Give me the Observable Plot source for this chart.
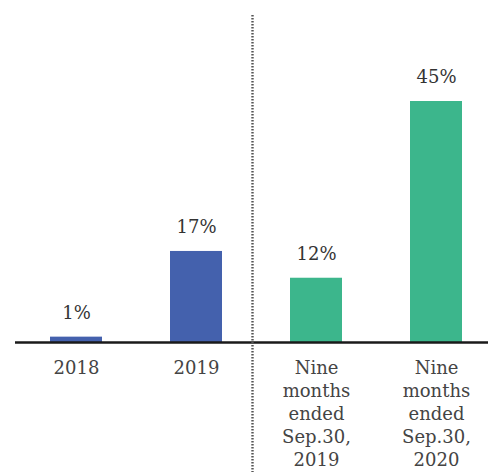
<!DOCTYPE html>
<html>
<head>
<meta charset="utf-8">
<script src="https://cdn.jsdelivr.net/npm/d3@7"></script>
<script src="https://cdn.jsdelivr.net/npm/@observablehq/plot@0.6"></script>
<style>
  html, body { margin: 0; padding: 0; background: #fff; }
</style>
</head>
<body>
<div id="chart"></div>
<script>
const categories = ["2018", "2019", "Nine\nmonths\nended\nSep.30,\n2019", "Nine\nmonths\nended\nSep.30,\n2020"];
const values = [1, 17, 12, 45];
const colors = ["#4461ad", "#4461ad", "#3cb68c", "#3cb68c"];
const labels = ["1%", "17%", "12%", "45%"];

const data = categories.map((c, i) => ({cat: c, value: values[i], color: colors[i], label: labels[i]}));

const font = "DejaVu Serif";

const chart = Plot.plot({
  width: 488,
  height: 472,
  marginLeft: 15,
  marginRight: 0,
  marginTop: 101,
  marginBottom: 130,
  style: {fontFamily: font, background: "#fff", overflow: "visible"},
  x: {domain: categories, paddingInner: 0.567, paddingOuter: 0.254, align: 0.574, label: null},
  y: {domain: [0, 45], axis: null},
  marks: [
    Plot.barY(data, {x: "cat", y: "value", fill: "color"}),
    Plot.ruleY([0], {stroke: "#1a1a1a", strokeWidth: 2.6}),
    Plot.ruleX([categories[2]], {dx: -64, insetTop: -86, insetBottom: -130, stroke: "#555", strokeWidth: 2.4, strokeDasharray: "1.6,1.4"}),
    Plot.text(data, {x: "cat", y: "value", text: "label", dy: -24, fontSize: 18, fill: "#333", fontFamily: font}),
    Plot.axisX({tickSize: 0, tickPadding: 15, fontSize: 18, lineHeight: 1.28, fill: "#444", fontFamily: font, label: null})
  ]
});
document.getElementById("chart").appendChild(chart);
</script>
</body>
</html>
